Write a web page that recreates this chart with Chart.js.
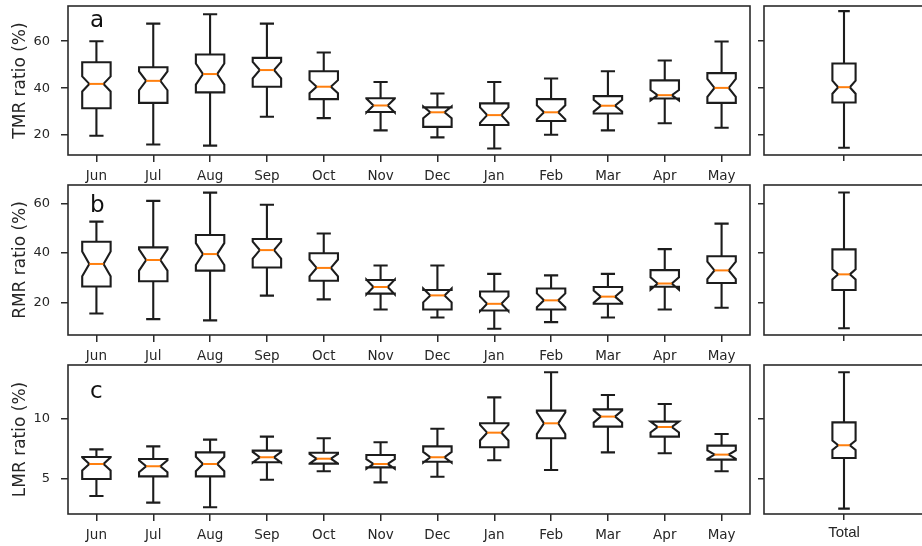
<!DOCTYPE html>
<html lang="en">
<head>
<meta charset="utf-8">
<title>TMR / RMR / LMR ratios by month</title>
<style>
html, body { margin: 0; padding: 0; background: #fff; width: 922px; height: 546px; overflow: hidden; }
.panel { position: absolute; }
</style>
</head>
<body>
<div class="panel" style="left:0;top:0"><canvas id="mainA" width="752" height="190"></canvas></div>
<div class="panel" style="left:752px;top:0"><canvas id="sideA" width="172" height="190"></canvas></div>
<div class="panel" style="left:0;top:180px"><canvas id="mainB" width="752" height="190"></canvas></div>
<div class="panel" style="left:752px;top:180px"><canvas id="sideB" width="172" height="190"></canvas></div>
<div class="panel" style="left:0;top:360px"><canvas id="mainC" width="752" height="190"></canvas></div>
<div class="panel" style="left:752px;top:360px"><canvas id="sideC" width="172" height="190"></canvas></div>

<script src="https://cdn.jsdelivr.net/npm/chart.js"></script>
<script>
const months = ['Jun', 'Jul', 'Aug', 'Sep', 'Oct', 'Nov', 'Dec', 'Jan', 'Feb', 'Mar', 'Apr', 'May'];
const totalLabel = ['Total'];

// panel a - TMR ratio (%)
const tmrLow   = [19.7, 16.0, 15.5, 27.8, 27.2, 22.0, 19.0, 14.3, 20.1, 22.0, 25.0, 23.1];
const tmrQ1    = [31.4, 33.7, 38.2, 40.6, 35.3, 29.8, 23.5, 24.3, 26.0, 29.2, 35.6, 33.7];
const tmrMed   = [41.8, 43.1, 46.0, 47.7, 40.6, 32.6, 29.7, 28.5, 29.7, 32.5, 37.0, 40.1];
const tmrQ3    = [51.0, 48.9, 54.3, 52.9, 47.2, 35.7, 31.8, 33.5, 35.3, 36.6, 43.3, 46.4];
const tmrHigh  = [60.0, 67.5, 71.5, 67.5, 55.2, 42.6, 37.7, 42.6, 44.1, 47.2, 51.8, 59.9];
const tmrNotch = [3.2, 4.0, 4.5, 3.5, 2.8, 3.0, 2.5, 3.3, 3.0, 2.5, 2.2, 3.8];
const tmrTotal = [14.6, 33.9, 40.4, 50.5, 72.8, 2.8]; // low, q1, median, q3, high, notch
const tmrTicks = [20, 40, 60];

// panel b - RMR ratio (%)
const rmrLow   = [15.6, 13.3, 12.8, 22.8, 21.3, 17.2, 14.0, 9.4, 12.1, 14.0, 17.2, 17.9];
const rmrQ1    = [26.5, 28.6, 32.9, 34.2, 28.8, 23.6, 17.2, 16.8, 17.2, 19.5, 26.4, 27.9];
const rmrMed   = [35.6, 37.2, 39.6, 41.2, 34.0, 26.3, 22.9, 19.5, 20.9, 22.4, 27.7, 33.0];
const rmrQ3    = [44.6, 42.3, 47.3, 45.7, 39.9, 29.1, 25.1, 24.5, 25.7, 26.3, 33.1, 38.7];
const rmrHigh  = [52.7, 61.1, 64.4, 59.5, 47.9, 35.0, 35.0, 31.6, 31.0, 31.6, 41.6, 51.9];
const rmrNotch = [5.0, 4.3, 4.4, 3.4, 3.4, 3.0, 2.8, 3.0, 2.8, 2.5, 2.5, 3.5];
const rmrTotal = [9.6, 25.1, 31.4, 41.5, 64.5, 2.1];
const rmrTicks = [20, 40, 60];

// panel c - LMR ratio (%)
const lmrLow   = [3.58, 3.03, 2.64, 4.94, 5.64, 4.72, 5.19, 6.56, 5.75, 7.22, 7.14, 5.64];
const lmrQ1    = [5.00, 5.22, 5.22, 6.39, 6.28, 5.97, 6.44, 7.64, 8.39, 9.36, 8.53, 6.61];
const lmrMed   = [6.25, 6.06, 6.25, 6.81, 6.69, 6.25, 6.81, 8.86, 9.64, 10.2, 9.33, 7.03];
const lmrQ3    = [6.83, 6.67, 7.22, 7.36, 7.19, 7.00, 7.72, 9.64, 10.7, 10.8, 9.78, 7.78];
const lmrHigh  = [7.47, 7.72, 8.28, 8.53, 8.39, 8.06, 9.19, 11.8, 13.9, 12.0, 11.25, 8.75];
const lmrNotch = [0.55, 0.5, 0.6, 0.45, 0.4, 0.4, 0.45, 0.65, 0.9, 0.5, 0.45, 0.35];
const lmrTotal = [2.53, 6.75, 7.81, 9.72, 13.9, 0.4];
const lmrTicks = [5, 10];

const boxColor = '#1c1c1c';
const frameColor = '#2b2b2b';
const textColor = '#262626';
const medColor = '#ff7f0e';

function stats(low, q1, med, q3, high, notch) {
	return { low, q1, med, q3, high, notch };
}
function totalStats(t) {
	return stats([t[0]], [t[1]], [t[2]], [t[3]], [t[4]], [t[5]]);
}

function boxPlugin(st, o) {
	return {
		id: 'notchBox',
		afterDatasetsDraw(chart) {
			const { ctx, chartArea: a, scales: { x, y } } = chart;
			const w = a.width / chart.data.labels.length * o.boxWidth;
			const Y = v => y.getPixelForValue(v);
			ctx.save();
			ctx.beginPath();
			ctx.rect(a.left, a.top, a.width, a.height);
			ctx.clip();
			ctx.lineJoin = 'miter';
			st.med.forEach((m, i) => {
				const cx = x.getPixelForValue(i);
				const L = cx - w / 2, R = cx + w / 2, cl = cx - w / 4, cr = cx + w / 4;
				const nLo = m - st.notch[i], nHi = m + st.notch[i];
				ctx.strokeStyle = boxColor;
				ctx.lineWidth = 2.1;
				// whiskers and caps
				ctx.beginPath();
				ctx.moveTo(cx, Y(st.q1[i])); ctx.lineTo(cx, Y(st.low[i]));
				ctx.moveTo(cl, Y(st.low[i])); ctx.lineTo(cr, Y(st.low[i]));
				ctx.moveTo(cx, Y(st.q3[i])); ctx.lineTo(cx, Y(st.high[i]));
				ctx.moveTo(cl, Y(st.high[i])); ctx.lineTo(cr, Y(st.high[i]));
				ctx.stroke();
				// notched box, same path order as matplotlib
				const px = [L, R, R, cr, R, R, L, L, cl, L, L];
				const py = [st.q1[i], st.q1[i], nLo, m, nHi, st.q3[i], st.q3[i], nHi, m, nLo, st.q1[i]];
				ctx.beginPath();
				px.forEach((xx, k) => k ? ctx.lineTo(xx, Y(py[k])) : ctx.moveTo(xx, Y(py[k])));
				ctx.closePath();
				ctx.stroke();
				// median
				ctx.strokeStyle = medColor;
				ctx.lineWidth = 2;
				ctx.beginPath();
				ctx.moveTo(cl, Y(m)); ctx.lineTo(cr, Y(m));
				ctx.stroke();
			});
			ctx.restore();
			ctx.save();
			ctx.strokeStyle = frameColor;
			ctx.lineWidth = 1.6;
			ctx.strokeRect(a.left, a.top, a.width, a.height);
			if (o.letter) {
				ctx.fillStyle = '#111';
				ctx.font = '23px "DejaVu Sans"';
				ctx.textBaseline = 'alphabetic';
				ctx.fillText(o.letter, a.left + 22, a.top + o.letterDy);
			}
			ctx.restore();
		}
	};
}

function makeChart(id, labels, st, o) {
	const grid = { drawOnChartArea: false, drawTicks: true, tickLength: o.tickLen || 6, color: frameColor, lineWidth: 1.5, offset: false };
	new Chart(document.getElementById(id), {
		type: 'bar',
		data: {
			labels: labels,
			datasets: [{
				data: st.q1.map((v, i) => [v, st.q3[i]]),
				backgroundColor: 'rgba(0,0,0,0)',
				borderWidth: 0
			}]
		},
		options: {
			responsive: false,
			animation: false,
			events: [],
			layout: { padding: { top: o.padTop, right: o.padRight, left: 0, bottom: 0 } },
			plugins: { legend: { display: false }, tooltip: { enabled: false } },
			scales: {
				x: {
					offset: true,
					grid: grid,
					border: { display: false },
					ticks: {
						color: textColor,
						font: o.xFont || { family: 'DejaVu Sans', size: 13.5 },
						padding: o.xPad,
						maxRotation: 0,
						autoSkip: false,
						callback: function (v) { return o.xLabels ? this.getLabelForValue(v) : ''; }
					},
					afterFit(s) { s.height = o.xHeight; s.paddingLeft = 0; s.paddingRight = 0; }
				},
				y: {
					min: o.min,
					max: o.max,
					afterBuildTicks(s) { s.ticks = o.ticks.map(v => ({ value: v })); },
					grid: grid,
					border: { display: false },
					ticks: {
						color: textColor,
						font: { family: 'DejaVu Sans', size: 13 },
						padding: 11,
						callback: v => o.yLabels ? v : ''
					},
					title: {
						display: !!o.title,
						text: o.title || '',
						color: textColor,
						font: { family: 'DejaVu Sans', size: 17 },
						padding: { top: 10, bottom: 0 }
					},
					afterFit(s) { s.width = o.yWidth; s.paddingTop = 0; s.paddingBottom = 0; }
				}
			}
		},
		plugins: [boxPlugin(st, o)]
	});
}

const rows = [
	{ main: 'mainA', side: 'sideA', st: stats(tmrLow, tmrQ1, tmrMed, tmrQ3, tmrHigh, tmrNotch), total: tmrTotal,
	  title: 'TMR ratio (%)', letter: 'a', letterDy: 21, min: 11.5, max: 75, ticks: tmrTicks, padTop: 6, xHeight: 35 },
	{ main: 'mainB', side: 'sideB', st: stats(rmrLow, rmrQ1, rmrMed, rmrQ3, rmrHigh, rmrNotch), total: rmrTotal,
	  title: 'RMR ratio (%)', letter: 'b', letterDy: 27, min: 6.9, max: 67.5, ticks: rmrTicks, padTop: 5, xHeight: 35 },
	{ main: 'mainC', side: 'sideC', st: stats(lmrLow, lmrQ1, lmrMed, lmrQ3, lmrHigh, lmrNotch), total: lmrTotal,
	  title: 'LMR ratio (%)', letter: 'c', letterDy: 33, min: 2.08, max: 14.5, ticks: lmrTicks, padTop: 5, xHeight: 36, last: true }
];

for (const r of rows) {
	makeChart(r.main, months, r.st, {
		title: r.title, letter: r.letter, letterDy: r.letterDy, min: r.min, max: r.max, ticks: r.ticks,
		padTop: r.padTop, padRight: 2, xHeight: r.xHeight, yWidth: 68, xPad: 6, tickLen: 7,
		xLabels: true, yLabels: true, boxWidth: 0.5
	});
	makeChart(r.side, totalLabel, totalStats(r.total), {
		min: r.min, max: r.max, ticks: r.ticks, padTop: r.padTop, padRight: 0, xHeight: r.xHeight,
		yWidth: 12, xPad: 4, tickLen: 6, xLabels: !!r.last, yLabels: false, boxWidth: 0.145,
		xFont: { family: 'Liberation Sans', size: 15 }
	});
}
</script>
</body>
</html>
